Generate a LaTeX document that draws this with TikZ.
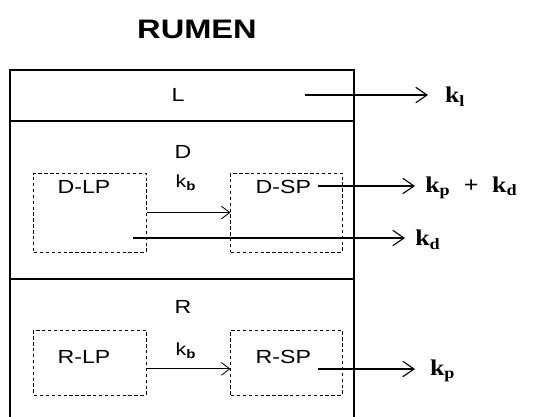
\documentclass[tikz,border=0pt]{standalone}
\usepackage{fontspec}
\setmainfont{Liberation Sans}
\newfontfamily\widefont{Liberation Sans}[FakeStretch=1.22]
\newfontfamily\kfont{Liberation Serif}[FakeStretch=1.15]
\usetikzlibrary{arrows.meta,positioning}

\begin{document}
\begin{tikzpicture}[x=0.025cm, y=-0.025cm,
  rowbox/.style={rectangle, draw, line width=0.9pt, minimum width=8.6cm,
                 inner sep=0pt},
  poolbox/.style={rectangle, draw, line width=0.7pt,
                  dash pattern=on 2.4pt off 1.8pt, inner sep=0pt,
                  minimum width=2.8cm},
  lbl/.style={font=\widefont\fontsize{13.5}{15}\selectfont},
  klbl/.style={font=\kfont\bfseries\fontsize{16}{18}\selectfont, inner sep=0pt},
  kb/.style={font=\widefont\fontsize{12.5}{14}\selectfont},
  arr/.style={-{Straight Barb[length=8pt, width=11pt]}, line width=0.8pt},
  thinarr/.style={-{Straight Barb[length=6pt, width=9pt]}, line width=0.6pt}
]
\useasboundingbox (0,0) rectangle (550,416);

% Title
\node[font=\widefont\bfseries\fontsize{19}{22}\selectfont] (title) at (197,29) {RUMEN};

% Compartments
\node[rowbox, minimum height=1.275cm] (Lrow) at (182,95.5) {};
\node[rowbox, minimum height=3.95cm]  (Drow) at (182,200) {};
\coordinate (Rtl) at (10,279);
\coordinate (Rtr) at (354,279);
\coordinate (Rbl) at (10,418);
\coordinate (Rbr) at (354,418);
\draw[line width=0.9pt] (Rbl) -- (Rtl) -- (Rtr) -- (Rbr);

\node[lbl] (L) at (178,95) {L};
\node[lbl] (D) at (183,152) {D};
\node[lbl] (R) at (183,307) {R};

% Pools
\node[poolbox, minimum height=1.975cm,
      label={[lbl, xshift=-0.15cm, yshift=0.63cm]center:D-LP}] (DLP) at (90,212.5) {};
\node[poolbox, minimum height=1.975cm, minimum width=2.775cm,
      label={[lbl, xshift=-0.08cm, yshift=0.63cm]center:D-SP}] (DSP) at (286.5,212.5) {};
\node[poolbox, minimum height=1.625cm,
      label={[lbl, xshift=-0.15cm, yshift=0.14cm]center:R-LP}] (RLP) at (90,362.5) {};
\node[poolbox, minimum height=1.625cm, minimum width=2.775cm,
      label={[lbl, xshift=-0.08cm, yshift=0.14cm]center:R-SP}] (RSP) at (286.5,362.5) {};

\node[kb] (kbD) at (186,183) {k\textsubscript{\textbf{b}}};
\node[kb] (kbR) at (186,351) {k\textsubscript{\textbf{b}}};

% Arrow ends
\coordinate (Lout)   at (305,95);
\coordinate (DSPout) at (318,186);
\coordinate (DLPout) at (133,238);
\coordinate (RSPout) at (318,369);
\coordinate (Lend)   at (428,95);
\coordinate (kpdend) at (415,186);
\coordinate (kdend)  at (405,238);
\coordinate (kpend)  at (415,369);

% Outflow labels
\node[klbl, anchor=west, right=0.42cm of Lend, yshift=-0.05cm]   (kl)  {k\textsubscript{l}};
\node[klbl, anchor=west, right=0.25cm of kpdend, yshift=-0.05cm] (kpd) {k\textsubscript{p}\hspace{0.6em}+\hspace{0.6em}k\textsubscript{d}};
\node[klbl, anchor=west, right=0.25cm of kdend, yshift=-0.05cm]  (kd)  {k\textsubscript{d}};
\node[klbl, anchor=west, right=0.37cm of kpend, yshift=-0.05cm]  (kp)  {k\textsubscript{p}};

% Arrows
\draw[arr] (Lout) -- (Lend);
\draw[arr] (DSPout) -- (kpdend);
\draw[arr] (DLPout) -- (kdend);
\draw[arr] (RSPout) -- (kpend);
\draw[thinarr] (DLP.east) -- (DSP.west);
\draw[thinarr] ([yshift=-0.16cm]RLP.east) -- ([yshift=-0.16cm]RSP.west);
\end{tikzpicture}
\end{document}
